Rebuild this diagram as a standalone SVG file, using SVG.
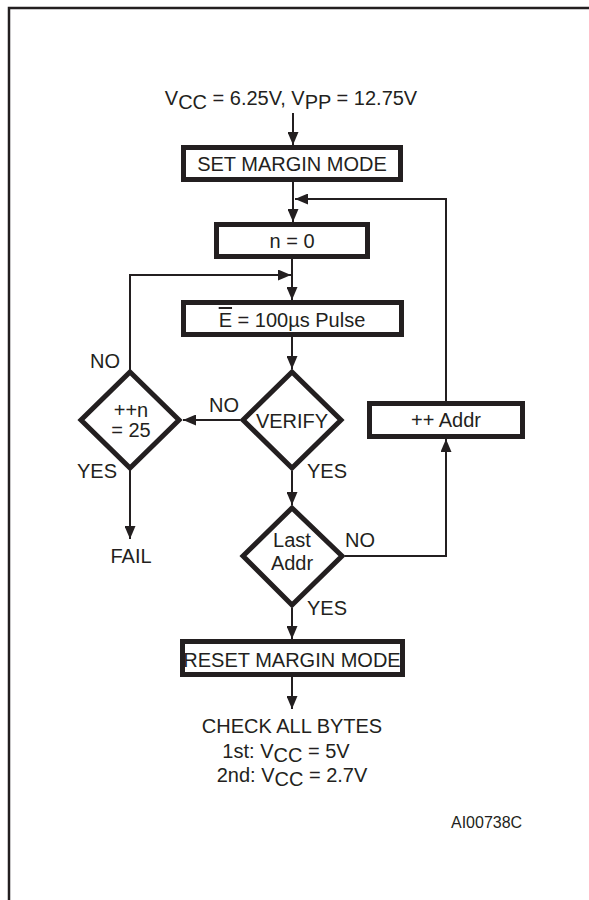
<svg xmlns="http://www.w3.org/2000/svg" width="589" height="900" viewBox="0 0 589 900">
<style>
  .box { fill: #ffffff; stroke: #231f20; stroke-width: 5; }
  .dia { fill: #ffffff; stroke: #231f20; stroke-width: 5; stroke-linejoin: miter; }
  .con { fill: none; stroke: #231f20; stroke-width: 2; }
  .frame { fill: none; stroke: #231f20; stroke-width: 2.5; }
  text { font-family: "Liberation Sans", Arial, sans-serif; font-size: 20px; fill: #231f20; }
  .c { text-anchor: middle; }
  .small { font-size: 16px; }
</style>
<defs>
  <marker id="ah" markerUnits="userSpaceOnUse" markerWidth="13" markerHeight="11" refX="13" refY="5.5" orient="auto">
    <path d="M0,0 L13,5.5 L0,11 Z" fill="#231f20"/>
  </marker>
</defs>
<rect width="589" height="900" fill="#ffffff"/>
<path class="frame" d="M9,900 L9,8 L589,8"/>

<g id="connectors">
  <line class="con" x1="293" y1="113" x2="293" y2="145" marker-end="url(#ah)"/>
  <line class="con" x1="293" y1="182" x2="293" y2="222" marker-end="url(#ah)"/>
  <polyline class="con" points="446,401 446,199 295,199" marker-end="url(#ah)"/>
  <line class="con" x1="292" y1="259" x2="292" y2="300" marker-end="url(#ah)"/>
  <polyline class="con" points="130,372 130,275 291,275" marker-end="url(#ah)"/>
  <line class="con" x1="292" y1="337" x2="292" y2="369" marker-end="url(#ah)"/>
  <line class="con" x1="240" y1="420" x2="183" y2="420" marker-end="url(#ah)"/>
  <line class="con" x1="130" y1="468" x2="130" y2="539" marker-end="url(#ah)"/>
  <line class="con" x1="292" y1="471" x2="292" y2="505" marker-end="url(#ah)"/>
  <polyline class="con" points="345,556 446,556 446,439" marker-end="url(#ah)"/>
  <line class="con" x1="292" y1="608" x2="292" y2="639" marker-end="url(#ah)"/>
  <line class="con" x1="292" y1="677" x2="292" y2="709" marker-end="url(#ah)"/>
</g>

<g id="start">
  <text class="c" x="291" y="105">V<tspan dy="4">CC</tspan><tspan dy="-4"> = 6.25V, V</tspan><tspan dy="4">PP</tspan><tspan dy="-4"> = 12.75V</tspan></text>
</g>

<g id="set-margin">
  <rect class="box" x="183.5" y="147.5" width="217" height="32"/>
  <text class="c" x="292" y="171">SET MARGIN MODE</text>
</g>

<g id="n-zero">
  <rect class="box" x="216.5" y="224.5" width="151" height="32"/>
  <text class="c" x="292" y="248">n = 0</text>
</g>

<g id="pulse">
  <rect class="box" x="183.5" y="302.5" width="218" height="32"/>
  <text class="c" x="292" y="327"><tspan text-decoration="overline">E</tspan> = 100µs Pulse</text>
</g>

<g id="verify">
  <polygon class="dia" points="292,372 341,420 292,468 243,420"/>
  <text class="c" x="292" y="428">VERIFY</text>
  <text x="209" y="412">NO</text>
  <text x="307" y="478">YES</text>
</g>

<g id="count">
  <polygon class="dia" points="130,372 179,420 130,468 81,420"/>
  <text class="c" x="131" y="417">++n</text>
  <text class="c" x="131" y="437">= 25</text>
  <text x="90" y="368">NO</text>
  <text x="77" y="478">YES</text>
</g>

<g id="fail">
  <text class="c" x="131" y="563">FAIL</text>
</g>

<g id="inc-addr">
  <rect class="box" x="369.5" y="403.5" width="153" height="33"/>
  <text class="c" x="446" y="427">++ Addr</text>
</g>

<g id="last-addr">
  <polygon class="dia" points="292,508 342,556 292,605 243,556"/>
  <text class="c" x="292" y="547">Last</text>
  <text class="c" x="292" y="570">Addr</text>
  <text x="345" y="547">NO</text>
  <text x="307" y="615">YES</text>
</g>

<g id="reset-margin">
  <rect class="box" x="182.5" y="641.5" width="220" height="33"/>
  <text class="c" x="292" y="667">RESET MARGIN MODE</text>
</g>

<g id="check">
  <text class="c" x="292" y="733">CHECK ALL BYTES</text>
  <text class="c" x="286" y="758">1st: V<tspan dy="4">CC</tspan><tspan dy="-4"> = 5V</tspan></text>
  <text class="c" x="292" y="782">2nd: V<tspan dy="4">CC</tspan><tspan dy="-4"> = 2.7V</tspan></text>
</g>

<g id="code">
  <text class="small" x="451" y="828">AI00738C</text>
</g>
</svg>
